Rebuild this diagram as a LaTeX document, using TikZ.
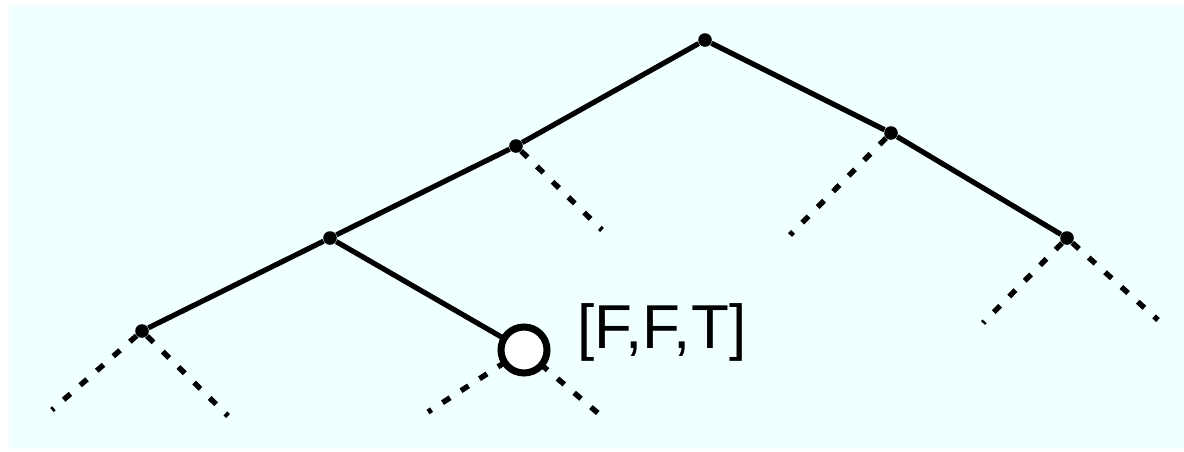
\documentclass[tikz,border=0pt]{standalone}
\usepackage{fontspec}
\setmainfont{Liberation Sans}
\usetikzlibrary{positioning}
\definecolor{bgcyan}{HTML}{F0FFFF}

\begin{document}
\begin{tikzpicture}[
  x=0.5pt, y=-0.5pt,
  dot/.style={circle, fill=black, inner sep=0pt, minimum size=6.8pt},
  leaf/.style={circle, draw=black, fill=white, line width=3.5pt, inner sep=0pt, minimum size=23pt},
  edge/.style={line width=2.6pt},
  stub/.style={line width=2.7pt, dash pattern=on 4.5pt off 6.5pt},
]
\useasboundingbox (0,0) rectangle (1184,451);
\fill[bgcyan] (9,5) rectangle (1184,449);

% Nodes - tree
\node[dot] (r)   at (705,40)  {};
\node[dot] (l)   at (516,146) {};
\node[dot] (rr)  at (891,133) {};
\node[dot] (ll)  at (330,238) {};
\node[dot] (rrr) at (1067,238) {};
\node[dot] (lll) at (142,331) {};
\coordinate (c) at (524,350);

% Free ends of the dashed stubs
\coordinate (lA)   at (602,230);
\coordinate (rrA)  at (790,235);
\coordinate (rrrA) at (983,323);
\coordinate (rrrB) at (1158,320);
\coordinate (lllA) at (52,410);
\coordinate (lllB) at (228,416);
\coordinate (cA)   at (428,412);
\coordinate (cB)   at (606,420);

% Dashed stubs
\draw[stub] (l) -- (lA);
\draw[stub] (rr) -- (rrA);
\draw[stub] (rrr) -- (rrrA);
\draw[stub] (rrr) -- (rrrB);
\draw[stub] (lll) -- (lllA);
\draw[stub] (lll) -- (lllB);
\draw[stub] (c) -- (cA);
\draw[stub] (c) -- (cB);

% Solid edges
\draw[edge] (r) -- (l);
\draw[edge] (r) -- (rr);
\draw[edge] (l) -- (ll);
\draw[edge] (rr) -- (rrr);
\draw[edge] (ll) -- (lll);
\draw[edge] (ll) -- (c);

% Marked node and its label
\node[leaf] (m) at (c) {};
\node[anchor=base west, inner sep=0pt, font=\fontsize{31}{36}\selectfont] (lab) at (577,348) {[F,F,T]};

\end{tikzpicture}
\end{document}
